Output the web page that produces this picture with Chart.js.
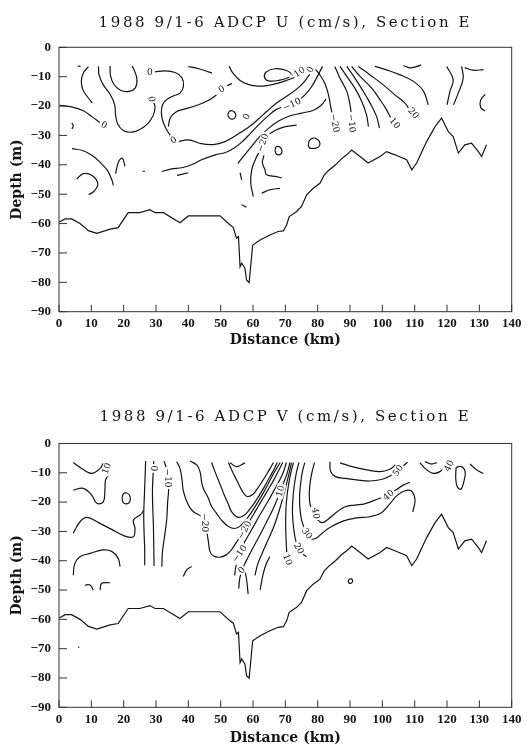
<!DOCTYPE html>
<html>
<head>
<meta charset="utf-8">
<title>1988 9/1-6 ADCP, Section E</title>
<script src="https://cdn.jsdelivr.net/npm/chart.js@4.4.1/dist/chart.umd.min.js"></script>
<style>
  html, body { margin: 0; padding: 0; background: #fff; }
  canvas { display: block; }
</style>
</head>
<body>
<canvas id="chartU" width="529" height="372"></canvas>
<canvas id="chartV" width="529" height="373"></canvas>
<script>
// Axis ticks
const distanceTicks = [0, 10, 20, 30, 40, 50, 60, 70, 80, 90, 100, 110, 120, 130, 140];
const depthTicks = [0, -10, -20, -30, -40, -50, -60, -70, -80, -90];

// Bottom of the ADCP section: [distance km, depth m]
const seabed = [
  [0.1, -59.5], [1.9, -58.4], [3.9, -58.4], [6.5, -60], [9.1, -62.4], [11.7, -63.3], [15.8, -61.9],
  [18.3, -61.4], [21.4, -56.3], [25, -56.3], [28.1, -55.3], [29.7, -56.3], [32.3, -56.3], [37.4, -59.7],
  [40, -57.4], [49.8, -57.4], [52.9, -60.5], [53.9, -61.3], [54.9, -65], [55.5, -64.4], [56, -74.7],
  [56.5, -73.5], [57.5, -75.2], [58, -79.2], [58.8, -80.1], [59.9, -67.3], [62.2, -65.6], [65.2, -63.9],
  [67.8, -62.7], [69.4, -62.5], [70.4, -60.5], [71.2, -57.6], [73.5, -55.9], [75, -54.2], [76.6, -50.2],
  [78.6, -48], [80.7, -46.3], [82, -43.5], [83.3, -42], [85.5, -40], [87.5, -37.8], [89, -36.6],
  [90.5, -35], [93.1, -37.2], [95.6, -39.4], [99.3, -37.2], [101.3, -35.5], [103.9, -36.6], [107.5, -38.3],
  [109.1, -41.7], [110.6, -39.4], [113.7, -32.1], [116.3, -27], [118.3, -24.1], [120.4, -28.7],
  [121.9, -30.4], [123.5, -36], [125.5, -33.2], [127.6, -32.6], [129.7, -35.5], [130.7, -37.2], [132.2, -33.2]
];

// U (cm/s) contour lines, each a list of [distance km, depth m]
const uLines = [
  [[5.8, -6.3], [6.7, -6.6]],
  [[9.1, -6.6], [7.6, -8.6], [6.9, -11.5], [7.4, -14.5], [8.9, -17], [10.3, -19]],
  [[0.3, -19.8], [3.9, -20.3], [7.5, -21.6], [10.2, -23.6], [12.6, -25.6]],
  [[12.2, -6.5], [12.4, -9.5], [13.7, -12.8], [15.8, -16], [17.2, -19.5], [17.5, -23], [18.2, -26.2], [20, -28.4],
   [22.5, -28.9], [25, -28], [27.6, -25.8], [29.2, -23], [29.7, -20.3], [29.3, -18.9]],
  [[15.8, -6.4], [15.9, -9.5], [16.9, -12.5], [19, -14.6], [21.6, -15], [23.6, -13.8], [24.1, -10.8], [23.2, -7.6], [22.6, -6.4]],
  [[4, -25.8], [4.4, -26.8], [4, -27.8]],
  [[29.6, -8.4], [32.8, -8], [35.9, -8.6], [38, -10.3], [38.5, -13.2], [37.4, -15.6], [34.8, -16.8], [32.6, -18.5],
   [31.7, -21], [31.9, -24.3], [33, -27.5], [34.4, -30]],
  [[33.8, -27], [34.5, -23.8], [36.2, -22], [38.2, -21.2], [42, -20], [46, -18.2], [48.7, -16.2]],
  [[52, -13.1], [53.5, -12.3]],
  [[40, -6.6], [42.5, -7.1], [45, -7.9], [47.3, -8.8]],
  [[52.6, -6.4], [53.8, -8.8], [56, -11.3], [58.5, -12.6], [61.5, -13.2], [64.5, -13], [67.5, -12.3], [70.5, -11.2],
   [73.3, -10], [75.8, -8.7]],
  [[72.6, -9.6], [70.4, -7.9], [66.8, -7.3], [64.2, -8.3], [63.5, -10], [64.7, -11.4], [68.3, -11.2], [71.3, -10.2]],
  [[36.6, -32.2], [40, -31.5], [44, -32.8], [47.7, -33.1], [51.3, -32.1], [55, -29.8], [58.5, -27.3], [61.5, -24.6],
   [64.5, -21.6], [67.5, -18.8], [70.5, -16.6], [73.2, -14.5], [75.4, -12.3], [77, -10], [78.2, -8.2]],
  [[31.8, -42.3], [34.8, -41.4], [38, -41], [41, -40], [44.1, -38.3], [48.3, -36.6], [51.5, -35.8], [54.2, -34.3],
   [56.8, -32], [59.3, -29.2], [61.8, -26.3], [64.5, -23.5], [67, -21.3], [69.8, -20], [72, -19.2], [73.8, -18.3],
   [76, -16.3], [78, -13.6], [79.5, -10.8], [80.7, -8.2], [81.5, -6.5]],
  [[55.3, -39.5], [57.3, -36.8], [59.5, -33.8], [62, -30.5], [64.8, -27.6], [67.8, -25.2], [71.3, -23.4], [75, -22.4],
   [78.5, -21.5], [81, -19.8], [82.6, -17.6]],
  [[60.1, -50.8], [59.3, -46.2], [59.6, -41.7], [60.8, -38], [62.2, -35], [63.2, -32.6], [64.5, -30.2], [66.8, -28.3],
   [70, -27], [73.5, -26.5]],
  [[56, -42.7], [56.5, -45.1]],
  [[63.4, -36.8], [62.9, -39.2], [63.7, -41.7], [64.2, -43.4], [67.3, -44], [68.9, -44.5]],
  [[62.7, -49.7], [65.2, -48.5], [68.3, -48]],
  [[56.5, -53.6], [58, -54.4]],
  [[4, -34.5], [7.5, -35.2], [10.5, -37], [13, -39.5], [15, -42], [16.3, -45], [16.8, -47]],
  [[5.5, -44.8], [7.5, -43], [10.2, -43.6], [12, -46.3], [11, -48.8], [9.2, -50.2]],
  [[17.5, -43], [18.4, -39], [19.6, -37.8], [20.4, -40.5]],
  [[25.8, -42.2], [26.6, -42.2]],
  [[36.5, -43.6], [40, -42.7]],
  [[78.8, -6.8], [80.7, -9.4], [82.3, -12.5], [83.4, -16.5], [84, -20], [84.6, -23.3], [85.3, -26.5]],
  [[85.3, -6.5], [86.9, -10.5], [89, -15], [90, -19.6], [90.5, -23.5], [90.9, -26.5]],
  [[86.9, -6.5], [89, -9.9], [91.5, -13.9], [93.6, -18.4], [95.1, -23], [95.7, -27]],
  [[89, -6.5], [91.5, -10.5], [94.1, -15], [96.2, -19], [98.2, -23.5], [99.1, -27.5]],
  [[90.5, -6.5], [93.1, -9.9], [96.7, -13.9], [99.3, -17.9], [101.3, -21.3], [102.9, -24.7], [103.9, -26.5]],
  [[92.6, -6.5], [96.2, -9.4], [100.3, -12.8], [103.9, -16.2], [107, -19], [108.5, -21.3], [109.6, -22.6]],
  [[97.7, -6.5], [101.3, -7.7], [105.5, -9.4], [109.6, -11.6], [112.7, -14.9], [114.2, -19.6]],
  [[106.5, -6.2], [108.5, -7], [110.5, -6.6], [112, -6]],
  [[119.9, -6.5], [121.9, -11], [120.9, -15], [120, -19.6]],
  [[124.5, -6.5], [125, -10.5], [123.5, -15.5], [122, -19.6]],
  [[125.5, -6.9], [128, -7.8], [131.3, -7.6]],
  [[131.8, -16], [130.4, -18], [130.4, -20.5], [131.8, -21.7]],
  [[52.2, -23], [52.6, -21.9], [53.6, -21.6], [54.5, -22.4], [54.6, -23.6], [53.9, -24.4], [52.8, -24.2], [52.2, -23]],
  [[66.8, -35.2], [67.1, -34], [68, -33.8], [68.8, -34.6], [68.9, -35.9], [68.2, -36.6], [67.2, -36.3], [66.8, -35.2]],
  [[77.1, -33.6], [77.4, -31.8], [78.5, -30.9], [79.9, -31.3], [80.7, -32.6], [80.3, -33.9], [79, -34.4], [77.6, -34.3], [77.1, -33.6]]
];

// U contour labels: [text, km, depth, angle deg]
const uLabels = [
  ['0', 14, -26.4, 30], ['0', 28.6, -17.6, 80], ['0', 28.1, -8.6, 0], ['0', 35.4, -31.6, -30],
  ['0', 50.3, -14.2, -30], ['0', 58, -23.6, -60], ['10', 74.3, -8.4, -35], ['0', 77.7, -7.6, -60],
  ['-10', 72, -19.4, -25], ['-20', 63, -32.5, -70], ['-20', 85.3, -25.8, 80], ['-10', 90.5, -25.8, 85],
  ['10', 103.9, -25.8, 50], ['20', 109.6, -22.4, 50]
];

// V (cm/s) contour lines
const vLines = [
  [[4.4, -6.5], [7, -8.5], [10.1, -10.2], [12.7, -8.5], [13.7, -6.8]],
  [[4.4, -15.9], [7.5, -15.3], [10.1, -17.6], [11.7, -20.4], [13.7, -19.9], [14.2, -15.9], [14.4, -12.5], [15.3, -10.8]],
  [[19.5, -18.7], [19.9, -17.2], [20.9, -16.9], [21.9, -17.8], [21.9, -19.8], [21, -20.6], [19.9, -20.2], [19.5, -18.7]],
  [[4.4, -30.6], [6.5, -26.7], [8.6, -25.2], [12.2, -27], [16.3, -29.3], [20.4, -31.6], [23, -31.8], [23.5, -29],
   [23, -26.1], [25.1, -24.4], [26.1, -23]],
  [[4.4, -44.9], [4.9, -40.9], [6.5, -38.6], [9.6, -37.5], [13.6, -36.3], [16.3, -36.8], [18.3, -39.2], [18.9, -42]],
  [[8, -48.3], [9.6, -48.3], [10.6, -50]],
  [[12.7, -50], [13.2, -47.7], [15.8, -47.5]],
  [[26.8, -6], [26.6, -12], [26.4, -18], [26.2, -24], [26.3, -30], [26.5, -36], [26.5, -41.5]],
  [[29.3, -6], [29.1, -10.5], [28.9, -16], [29, -22], [29.2, -28], [29.3, -35], [29.4, -41.8]],
  [[32.5, -6], [33.3, -9], [33.9, -15], [33.6, -20], [33.3, -26], [32.6, -32], [32, -37], [31.8, -42]],
  [[36.4, -6.2], [37.4, -8.5], [38, -11.9], [38.5, -16.4], [40, -21], [41.5, -23.2], [44.1, -25], [45.3, -27.5],
   [45.7, -30.1], [46.2, -33.5], [46.7, -36.9], [47.7, -38.3], [49.7, -38.8], [51.7, -38], [53.3, -36.3],
   [54.8, -33.8], [56.3, -31.3], [57.5, -29.3], [58.4, -27.5], [60, -24.5], [61.6, -21.5], [63.2, -18.5],
   [64.8, -15.5], [66.4, -12.5], [67.8, -9.5], [69.2, -6.5]],
  [[40.5, -6], [42.6, -7.3], [43.6, -9.6], [44.1, -13], [44.6, -15.3], [46.2, -18.7], [47.2, -21.5], [48.5, -23.5],
   [50.3, -26.2], [52.4, -28.3], [54.4, -29], [56.2, -28], [58, -25.8], [59.8, -23], [61.5, -20], [63.1, -17],
   [64.6, -14], [66, -11], [67.3, -8.5], [68.4, -6.5]],
  [[47.2, -6.5], [48.2, -9.5], [49.3, -12.5], [50.3, -15.3], [51.3, -18.1], [52.4, -20.8], [53.4, -23.3], [55.5, -25.2],
   [57.5, -24.3], [59.3, -22], [61, -19.3], [62.6, -16.5], [64, -13.8], [65.4, -11], [66.6, -8.6], [67.5, -6.5]],
  [[52.4, -6.5], [53.4, -9], [54.4, -11.3], [55.5, -13.7], [56.5, -15.9], [58, -18], [59.8, -17.5], [61.3, -15.5],
   [62.8, -13], [64.2, -10.5], [65.3, -8.5], [66.3, -6.5]],
  [[52.9, -6.6], [55, -7.9], [57.5, -6.6]],
  [[54.3, -45], [54.9, -41], [55.9, -37.6], [57, -34.5], [58.5, -31.5], [60.2, -28.2], [61.8, -25], [63.4, -22],
   [65, -19], [66.5, -16], [68, -13], [69.3, -10], [70.3, -6.5]],
  [[55.6, -49.5], [55.9, -46], [56.6, -43.2], [57.8, -40.3], [59.3, -37], [61, -33.5], [62.7, -30], [64.3, -26.5],
   [65.9, -23], [67.3, -19.5], [68.4, -16.3], [69.6, -13], [70.6, -10], [71.4, -6.5]],
  [[60.6, -45], [61.5, -41], [63, -37], [64.6, -33], [66.2, -29], [67.5, -25], [68.6, -21], [69.6, -17],
   [70.4, -13.5], [71.2, -10], [71.9, -6.5]],
  [[72.5, -6.5], [71.7, -10], [71, -14], [70.5, -18], [70.2, -22], [70.1, -27], [70.2, -32], [70.4, -36.5],
   [70.7, -39.8], [71.2, -42]],
  [[74.2, -6.5], [73.4, -10], [72.8, -14], [72.4, -18], [72.2, -22], [72.3, -26], [72.7, -30], [73.3, -33.5],
   [74.3, -36.2], [75.5, -37.8], [76.5, -38.6]],
  [[76, -6.5], [75.2, -10], [74.7, -14], [74.4, -18], [74.5, -22], [75, -26], [75.8, -28.7], [76.8, -31], [77.8, -32.5],
   [79.5, -32.3], [81.5, -30.5], [84, -28.5], [88, -26.4], [92, -25.4], [96, -25], [99.5, -23.8], [102, -21],
   [104.5, -17.8], [106.8, -16.2], [109, -16.2], [110.1, -19.3], [109.4, -23.3]],
  [[79, -6.5], [78.2, -10], [77.6, -14], [77.4, -18], [77.8, -21.5], [78.8, -24], [80, -26], [81.5, -27], [83.5, -25.6],
   [86, -23.3], [88.5, -21.6], [91.5, -21], [94.5, -20.6], [97.5, -19.4], [100.5, -18.1], [102.5, -17], [104.5, -15.6],
   [106.5, -14.2], [108.5, -13.2]],
  [[83.8, -6.2], [84, -9.5], [85.5, -11.3], [88.5, -11.9], [92, -12.4], [96, -12.8], [100, -12.2], [102.5, -11],
   [104.8, -9], [106.5, -7.6], [107.8, -6.4]],
  [[86.9, -6.6], [90.9, -8], [95.2, -9], [99.3, -9.6], [102.3, -8.8], [104, -7.3]],
  [[111.6, -6.5], [113.7, -9], [115.8, -10.2], [117.8, -9.6], [119.4, -7.9]],
  [[113.2, -6.2], [115.2, -7], [116.8, -6.5]],
  [[122.8, -8.2], [124.3, -7.8], [125.6, -9.5], [125.2, -13], [124.3, -15.6], [123.2, -14.8], [122.7, -12], [122.8, -8.2]],
  [[127.1, -7], [129.2, -9], [131.2, -10.2]],
  [[38.4, -45.4], [39.5, -43.1], [41, -42]],
  [[57.5, -43.5], [58, -46.3], [58.5, -51.4]],
  [[62.2, -49.9], [63.2, -44.2], [64.2, -40.8], [65.2, -38.6]],
  [[89.6, -46.4], [90.4, -46.2], [90.8, -47], [90.2, -47.7], [89.5, -47.3], [89.6, -46.4]],
  [[5.9, -69.5], [6.3, -69.5]]
];

// V contour labels: [text, km, depth, angle deg]
const vLabels = [
  ['10', 14.7, -8.5, -70], ['0', 29.2, -8.5, 90], ['-10', 33.8, -11.8, 90], ['-20', 45.2, -27, 90],
  ['-20', 57.4, -29.5, -60], ['-10', 55.8, -37.6, -55], ['0', 56.5, -43.2, -50], ['10', 68.4, -16.2, -75],
  ['10', 70.7, -39.6, 70], ['20', 74.2, -35.8, 60], ['30', 76.7, -30.7, 55], ['40', 79.4, -23.8, 80],
  ['40', 101.9, -17.6, -40], ['50', 104.8, -9.2, -55], ['40', 120.6, -7.6, -65]
];

const INK = '#141414';
const tickFont = { family: "'Liberation Serif', serif", size: 13, weight: 'bold', lineHeight: 1.2 };
const axisFont = { family: "'DejaVu Serif', serif", size: 14, weight: 'bold', lineHeight: 1 };
const fmt = v => String(v).replace('-', '\u2212');

// wider letter spacing for the chart title, like the old plotter lettering
const spacedTitle = {
  id: 'spacedTitle',
  beforeDraw(chart) {
    const tb = chart.titleBlock;
    if (!tb || tb._spaced) return;
    const draw = tb.draw.bind(tb);
    tb.draw = function (area) {
      chart.ctx.letterSpacing = '2.6px';
      draw(area);
      chart.ctx.letterSpacing = '0px';
    };
    tb._spaced = true;
  }
};

// frame around the plot and inward tick marks
const frameTicks = {
  id: 'frameTicks',
  afterDraw(chart) {
    const { ctx, chartArea: a, scales: { x, y } } = chart;
    ctx.save();
    ctx.strokeStyle = '#333';
    ctx.lineWidth = 1;
    ctx.strokeRect(a.left, a.top, a.right - a.left, a.bottom - a.top);
    ctx.beginPath();
    x.ticks.forEach(t => {
      const px = x.getPixelForValue(t.value);
      ctx.moveTo(px, a.bottom);
      ctx.lineTo(px, a.bottom - 7);
    });
    y.ticks.forEach(t => {
      const py = y.getPixelForValue(t.value);
      ctx.moveTo(a.left, py);
      ctx.lineTo(a.left + 8, py);
    });
    ctx.stroke();
    ctx.restore();
  }
};

// contour level labels, with a white patch so the line looks broken
function contourLabels(items) {
  return {
    id: 'contourLabels',
    afterDatasetsDraw(chart) {
      const { ctx, scales: { x, y } } = chart;
      ctx.save();
      ctx.font = "9px 'DejaVu Serif', serif";
      ctx.textAlign = 'center';
      ctx.textBaseline = 'middle';
      items.forEach(([text, km, depth, angle]) => {
        ctx.save();
        ctx.translate(x.getPixelForValue(km), y.getPixelForValue(depth));
        ctx.rotate(angle * Math.PI / 180);
        const label = fmt(text);
        const w = ctx.measureText(label).width;
        ctx.fillStyle = '#fff';
        ctx.fillRect(-w / 2 - 1.5, -4.5, w + 3, 9);
        ctx.fillStyle = INK;
        ctx.fillText(label, 0, 0.5);
        ctx.restore();
      });
      ctx.restore();
    }
  };
}

function toDatasets(lines) {
  const sets = lines.map(pts => ({
    data: pts.map(([x, y]) => ({ x, y })),
    showLine: true,
    borderColor: INK,
    borderWidth: 1.2,
    pointRadius: 0,
    tension: 0.4,
    fill: false
  }));
  sets.push({
    data: seabed.map(([x, y]) => ({ x, y })),
    showLine: true,
    borderColor: INK,
    borderWidth: 1.2,
    pointRadius: 0,
    tension: 0,
    fill: false
  });
  return sets;
}

function makeChart(id, title, lines, labels, box) {
  return new Chart(document.getElementById(id), {
    type: 'scatter',
    data: { datasets: toDatasets(lines) },
    options: {
      responsive: false,
      animation: false,
      devicePixelRatio: 1,
      layout: { padding: { left: 0, right: 17.3, top: 0, bottom: 0 } },
      plugins: {
        legend: { display: false },
        tooltip: { enabled: false },
        title: {
          display: true,
          text: title,
          fullSize: false,
          color: INK,
          font: { family: "'DejaVu Serif', serif", size: 15, weight: 'normal', lineHeight: 1.2 },
          padding: { top: box.titleTop, bottom: box.titleBottom }
        }
      },
      scales: {
        x: {
          type: 'linear',
          min: 0,
          max: 140,
          grid: { display: false, drawTicks: false },
          border: { display: false },
          afterBuildTicks: s => { s.ticks = distanceTicks.map(v => ({ value: v })); },
          afterFit: s => { s.height = box.xHeight; },
          ticks: { autoSkip: false, maxRotation: 0, padding: 4.5, color: INK, font: tickFont, callback: fmt },
          title: { display: true, text: 'Distance (km)', color: INK, font: axisFont, padding: { top: 0, bottom: box.xTitlePad } }
        },
        y: {
          type: 'linear',
          min: -90,
          max: 0,
          grid: { display: false, drawTicks: false },
          border: { display: false },
          afterBuildTicks: s => { s.ticks = depthTicks.map(v => ({ value: v })); },
          afterFit: s => { s.width = 59; },
          ticks: { padding: 8, color: INK, font: tickFont, callback: fmt },
          title: { display: true, text: 'Depth (m)', color: INK, font: axisFont, padding: { top: 10.8, bottom: 0 } }
        }
      }
    },
    plugins: [spacedTitle, contourLabels(labels), frameTicks]
  });
}

makeChart('chartU', '1988 9/1-6 ADCP U (cm/s), Section E', uLines, uLabels,
  { titleTop: 14, titleBottom: 15.3, xHeight: 60.3, xTitlePad: 24.3 });
makeChart('chartV', '1988 9/1-6 ADCP V (cm/s), Section E', vLines, vLabels,
  { titleTop: 35.7, titleBottom: 17.8, xHeight: 37.7, xTitlePad: 0 });
</script>
</body>
</html>
